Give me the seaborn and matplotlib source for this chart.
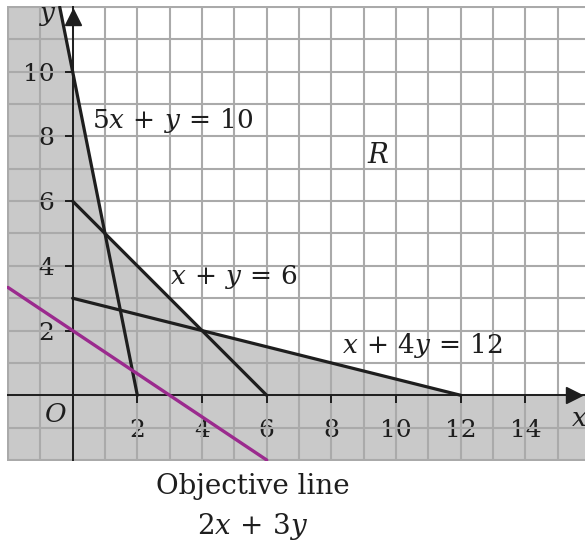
import matplotlib
matplotlib.use("Agg")
import matplotlib.pyplot as plt
import seaborn as sns

# constraint lines, endpoints
line_names = [r"5x\,+\,y\,=\,10", r"x\,+\,y\,=\,6", r"x\,+\,4y\,=\,12"]
line_x = [[-0.4, 2], [0, 6], [0, 12]]
line_y = [[12, 0], [6, 0], [3, 0]]
label_pos = [(3.1, 8.5), (5.0, 3.65), (10.8, 1.55)]

# objective line 2x + 3y = 6
obj_x = [-2, 6]
obj_y = [3.333, -2]

# corners of the feasible region R (open to the top right)
feasible_x = [-0.4, 1, 4, 12, 15.84, 15.84]
feasible_y = [12, 5, 2, 0, 0, 12]

x_ticks = [2, 4, 6, 8, 10, 12, 14]
y_ticks = [2, 4, 6, 8, 10]
x_min, x_max = -2, 15.84
y_min, y_max = -2, 12

sns.set_style("white")
plt.rcParams["font.family"] = ["DejaVu Serif"]
plt.rcParams["mathtext.fontset"] = "dejavuserif"
ink = "#1e1e1e"

fig = plt.figure(figsize=(5.85, 5.45), dpi=100)
ax = fig.add_axes([7 / 585, 84 / 545, 578 / 585, 455 / 545])

# grey for everything outside R, then white for R
ax.fill([x_min, x_max, x_max, x_min], [y_min, y_min, y_max, y_max],
        color="#c9c9c9", zorder=0)
ax.fill(feasible_x, feasible_y, color="white", zorder=0.5)

# unit grid
ax.set_xticks(x_ticks)
ax.set_yticks(y_ticks)
ax.set_xticks(range(x_min, 16), minor=True)
ax.set_yticks(range(y_min, y_max + 1), minor=True)
ax.xaxis.remove_overlapping_locs = False
ax.yaxis.remove_overlapping_locs = False
ax.grid(which="minor", color="#aaaaaa", linewidth=1.5)
ax.grid(which="major", visible=False)

# labels sit on the axes through the origin; the axis lines are drawn below
ax.spines["left"].set_position(("data", 0))
ax.spines["bottom"].set_position(("data", 0))
for s in ax.spines.values():
    s.set_visible(False)
ax.axhline(0, color=ink, linewidth=1.4, zorder=3)
ax.axvline(0, color=ink, linewidth=1.4, zorder=3)

# tick marks (drawn as markers so the grid does not cover them)
ax.plot(x_ticks, [0] * len(x_ticks), marker=3, markersize=6, markeredgewidth=1.4,
        color=ink, linestyle="none", zorder=3)
ax.plot([0] * len(y_ticks), y_ticks, marker=0, markersize=6, markeredgewidth=1.4,
        color=ink, linestyle="none", zorder=3)

for xs, ys in zip(line_x, line_y):
    sns.lineplot(x=xs, y=ys, ax=ax, color=ink, linewidth=2.3,
                 estimator=None, sort=False, zorder=3)
sns.lineplot(x=obj_x, y=obj_y, ax=ax, color="#9b2a8e", linewidth=2.4,
             estimator=None, sort=False, zorder=3)

for name, (tx, ty) in zip(line_names, label_pos):
    ax.text(tx, ty, f"${name}$", ha="center", va="center",
            fontsize=19, color=ink, zorder=4)
ax.text(9.45, 7.4, "$R$", ha="center", va="center", fontsize=20, color=ink, zorder=4)
ax.text(-0.52, -0.58, "$O$", ha="center", va="center", fontsize=19, color=ink, zorder=4)
ax.text(-0.75, 11.75, "$y$", ha="center", va="center", fontsize=19, color=ink, zorder=4)
ax.text(15.65, -0.72, "$x$", ha="center", va="center", fontsize=19, color=ink, zorder=4)

ax.set_xticklabels([str(v) for v in x_ticks], fontsize=18)
ax.set_yticklabels([str(v) for v in y_ticks], fontsize=18)
ax.tick_params(axis="x", which="major", bottom=True, length=6, width=0,
               pad=11, labelcolor=ink)
ax.tick_params(axis="y", which="major", left=True, length=6, width=0,
               pad=7, labelcolor=ink)
ax.tick_params(which="minor", length=0)

ax.set_xlim(x_min - 0.03, x_max)
ax.set_ylim(y_min - 0.03, y_max + 0.03)

# arrow heads
ax.plot(15.5, 0, ">", color=ink, markersize=12, clip_on=False, zorder=5)
ax.plot(0, 11.7, "^", color=ink, markersize=12, clip_on=False, zorder=5)

fig.text(253 / 585, 1 - 487 / 545, "Objective line", ha="center", va="center",
         fontsize=20, color=ink)
fig.text(253 / 585, 1 - 527 / 545, r"$2x\,+\,3y$", ha="center", va="center",
         fontsize=20, color=ink)

fig.savefig("out.png", dpi=100)
